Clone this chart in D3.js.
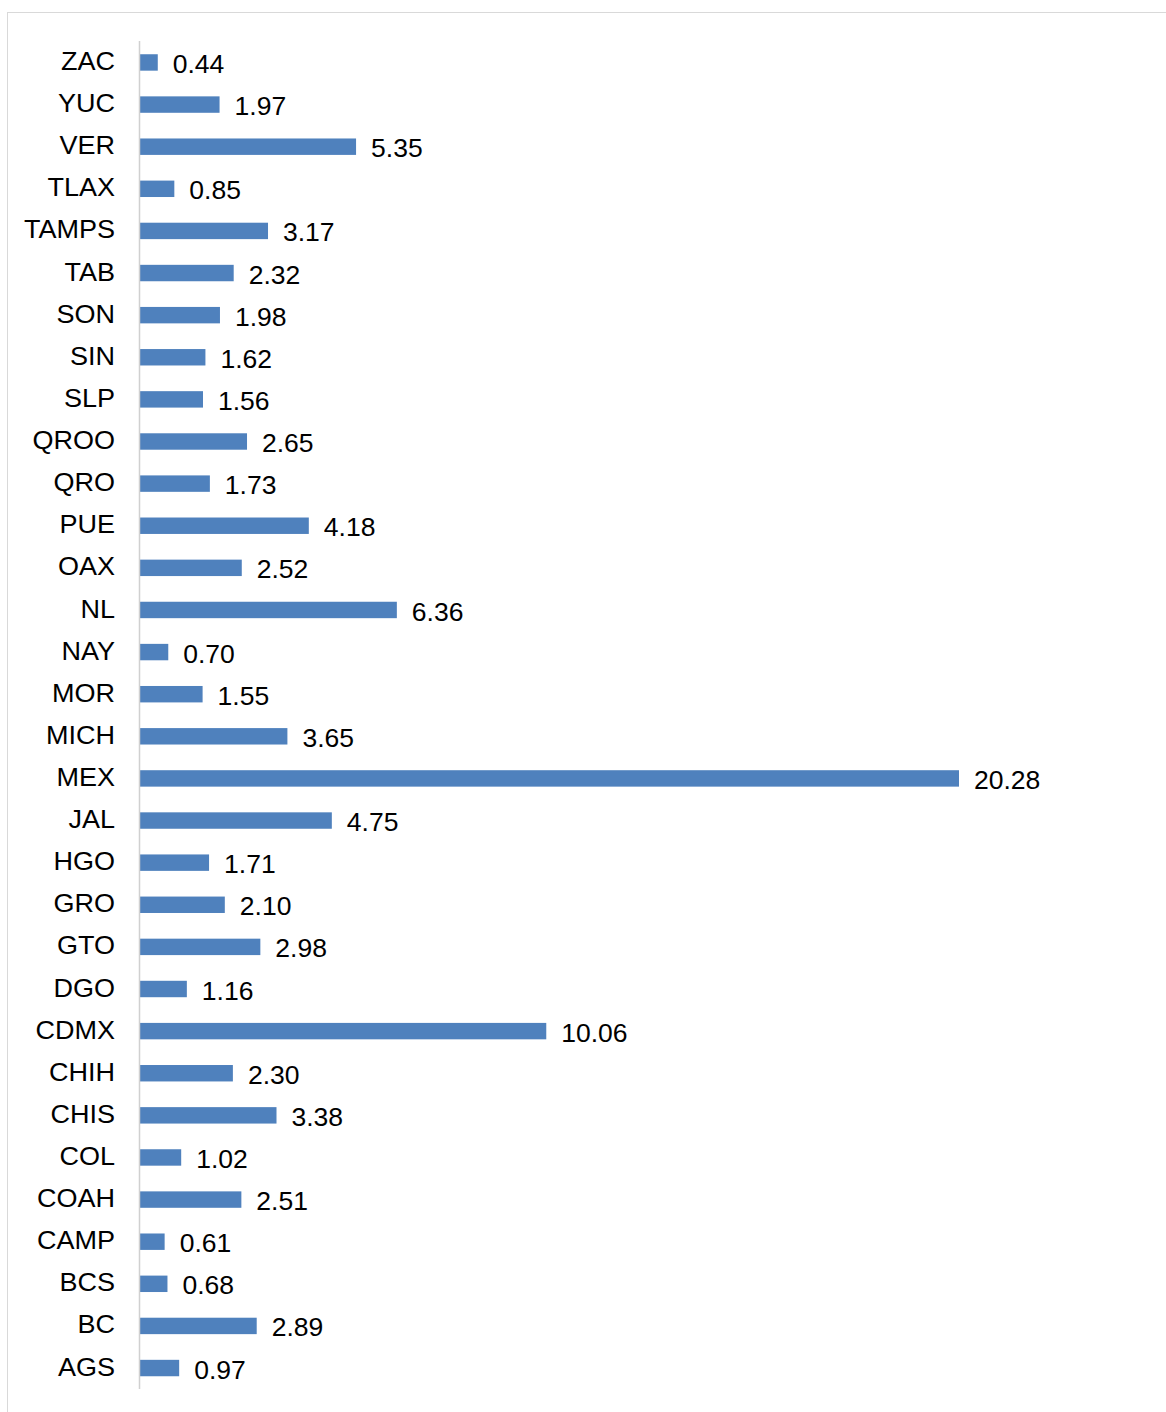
<!DOCTYPE html>
<html>
<head>
<meta charset="utf-8">
<script src="https://cdn.jsdelivr.net/npm/d3@7"></script>
<style>
html,body{margin:0;padding:0;background:#fff;}
svg{display:block;}
</style>
</head>
<body>
<svg id="chart" width="1166" height="1412"></svg>
<script>
const categories = ["ZAC","YUC","VER","TLAX","TAMPS","TAB","SON","SIN","SLP","QROO","QRO","PUE","OAX","NL","NAY","MOR","MICH","MEX","JAL","HGO","GRO","GTO","DGO","CDMX","CHIH","CHIS","COL","COAH","CAMP","BCS","BC","AGS"];
const values = [0.44,1.97,5.35,0.85,3.17,2.32,1.98,1.62,1.56,2.65,1.73,4.18,2.52,6.36,0.70,1.55,3.65,20.28,4.75,1.71,2.10,2.98,1.16,10.06,2.30,3.38,1.02,2.51,0.61,0.68,2.89,0.97];
const valueLabels = values.map(v => v.toFixed(2));

const svg = d3.select("#chart");
const font = "'Liberation Sans', Arial, sans-serif";
const fs = 25.5;

// border
svg.append("rect")
  .attr("x", 7.5).attr("y", 12.5)
  .attr("width", 1200).attr("height", 1450)
  .attr("fill", "none").attr("stroke", "#d9d9d9").attr("stroke-width", 1);

const x = d3.scaleLinear().domain([0, 20.28]).range([140, 959]);
const y = d3.scaleBand().domain(categories).range([41.4, 1389.1])
  .paddingInner(0.61).paddingOuter(0.305);

const data = categories.map((c, i) => ({c, v: values[i], l: valueLabels[i]}));

svg.append("g").selectAll("rect").data(data).join("rect")
  .attr("x", x(0))
  .attr("y", d => y(d.c))
  .attr("width", d => x(d.v) - x(0))
  .attr("height", y.bandwidth())
  .attr("fill", "#4f81bd");

// axis line
svg.append("line")
  .attr("x1", 139.5).attr("x2", 139.5)
  .attr("y1", 41).attr("y2", 1389)
  .attr("stroke", "#d0d0d0").attr("stroke-width", 1.5);

// category labels (slightly wide rendering as in the reference)
svg.append("g").selectAll("text").data(data).join("text")
  .attr("transform", d => `translate(115,${y(d.c) + y.bandwidth()/2 - 1.5 + fs*0.355}) scale(1.06,1)`)
  .attr("text-anchor", "end")
  .attr("font-family", font).attr("font-size", fs)
  .attr("fill", "#000")
  .text(d => d.c);

// value labels
svg.append("g").selectAll("text").data(data).join("text")
  .attr("transform", d => `translate(${x(d.v) + 15},${y(d.c) + y.bandwidth()/2 + 1.5 + fs*0.355}) scale(1.04,1)`)
  .attr("font-family", font).attr("font-size", fs)
  .attr("fill", "#000")
  .text(d => d.l);
</script>
</body>
</html>
